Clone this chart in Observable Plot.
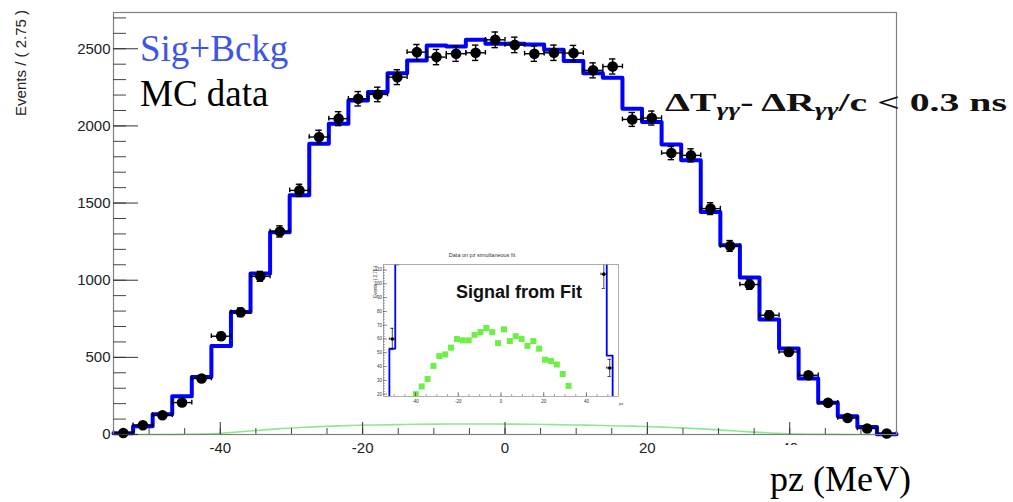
<!DOCTYPE html>
<html><head><meta charset="utf-8">
<script src="https://cdn.jsdelivr.net/npm/d3@7"></script>
<script src="https://cdn.jsdelivr.net/npm/@observablehq/plot@0.6"></script>
<style>
html,body{margin:0;padding:0;background:#fff;}
#wrap{position:relative;width:1013px;height:502px;overflow:hidden;}
#wrap > svg, #wrap > div{position:absolute;}
</style></head><body><div id="wrap"></div>
<script>
// ---- data ----
const binWidth = 2.75;
const pz = [-53.625,-50.875,-48.125,-45.375,-42.625,-39.875,-37.125,-34.375,-31.625,-28.875,
            -26.125,-23.375,-20.625,-17.875,-15.125,-12.375,-9.625,-6.875,-4.125,-1.375,
            1.375,4.125,6.875,9.625,12.375,15.125,17.875,20.625,23.375,26.125,
            28.875,31.625,34.375,37.125,39.875,42.625,45.375,48.125,50.875,53.625];
const mcData = [10,60,125,207,363,637,792,1025,1316,1582,
                1928,2047,2176,2204,2316,2478,2446,2468,2474,2558,
                2525,2468,2474,2472,2360,2385,2042,2051,1824,1809,
                1464,1222,972,773,535,384,205,107,39,6];
const sigPlusBkg = [8,53,131,248,373,574,794,1043,1310,1550,
                    1885,2014,2165,2219,2342,2424,2521,2515,2558,2532,
                    2532,2528,2494,2420,2342,2312,2111,2025,1880,1777,
                    1442,1226,1017,745,557,363,205,118,48,2];
const signalCurve = [0,0,0,1,3,8,18,28,38,45,
                     51,56,60,62,64,66,67,68,68,68,
                     67,66,64,62,60,57,54,50,45,40,
                     33,25,17,10,5,2,1,0,0,0];
// inset "Signal from Fit" per-bin values (bins 5..31)
const signalBins = [20,25.6,31,40.5,47.6,48.8,53.7,60,59,59,
                    63,65,68,65,57,67,58.5,62,60,55,
                    58.5,53,45,44,41.5,34.6,26];
const signalBinsPz = pz.slice(5, 32);
const yTicks = [0,500,1000,1500,2000,2500];
const xTicks = [-40,-20,0,20,40];
const insetYTicks = [20,30,40,50,60,70,80,90,100,110];

// ---- tables built from the arrays ----
const rows = pz.map((x,i)=>({x, data: mcData[i], fit: sigPlusBkg[i], sig: signalCurve[i]}));
const stepRows = rows.map(d=>({x: d.x - binWidth/2, y: d.fit}))
  .concat([{x: pz[pz.length-1] + binWidth/2, y: sigPlusBkg[sigPlusBkg.length-1]}]);
const insetRows = signalBinsPz.map((x,i)=>({x, y: signalBins[i]}));
const err = d => Math.sqrt(d.data);
const plain = d => String(d);

const sans = "'Liberation Sans', Arial, Helvetica, sans-serif";
const serif = "'Liberation Serif', 'Times New Roman', serif";
const wrap = document.getElementById("wrap");

function errorMarks(capX, capY, sw, clip) {
  return [
    Plot.ruleX(rows, {x:"x", y1: d=>d.data-err(d), y2: d=>d.data+err(d), stroke:"#000", strokeWidth:sw, clip}),
    Plot.ruleY(rows, {y:"data", x1: d=>d.x-binWidth/2, x2: d=>d.x+binWidth/2, stroke:"#000", strokeWidth:sw, clip}),
    Plot.ruleY(rows, {y: d=>d.data+err(d), x1: d=>d.x-capX, x2: d=>d.x+capX, stroke:"#000", strokeWidth:sw, clip}),
    Plot.ruleY(rows, {y: d=>d.data-err(d), x1: d=>d.x-capX, x2: d=>d.x+capX, stroke:"#000", strokeWidth:sw, clip}),
    Plot.ruleX(rows, {x: d=>d.x-binWidth/2, y1: d=>d.data-capY, y2: d=>d.data+capY, stroke:"#000", strokeWidth:sw, clip}),
    Plot.ruleX(rows, {x: d=>d.x+binWidth/2, y1: d=>d.data-capY, y2: d=>d.data+capY, stroke:"#000", strokeWidth:sw, clip})
  ];
}

// ---- main plot ----
const main = Plot.plot({
  width: 1013, height: 502,
  marginLeft: 113, marginRight: 117, marginTop: 12, marginBottom: 68,
  x: {domain: [-55, 55]},
  y: {domain: [0, 2735]},
  style: {fontFamily: sans, background: "white", overflow: "visible"},
  marks: [
    Plot.line(rows, {x:"x", y:"sig", stroke:"#8fe88f", strokeWidth:1.6, curve:"monotone-x"}),
    Plot.line(stepRows, {x:"x", y:"y", curve:"step-after", stroke:"#0000ff", strokeWidth:4}),
    ...errorMarks(0.45, 15, 1.4, false),
    Plot.dot(rows, {x:"x", y:"data", r:5.3, fill:"#000"}),
    Plot.frame({stroke:"#808080", strokeWidth:1.2}),
    Plot.axisY(d3.range(0, 2735, 100), {tickSize:-13, text:null, stroke:"#444", label:null}),
    Plot.axisY(yTicks, {tickSize:-25, text:null, stroke:"#333", label:null}),
    Plot.axisY(yTicks, {tickSize:0, tickPadding:3, fontSize:15, fill:"#222", label:null, tickFormat: plain}),
    Plot.axisX(d3.range(-50, 55, 5), {tickSize:-6, text:null, stroke:"#444", label:null}),
    Plot.axisX(xTicks, {tickSize:-12, text:null, stroke:"#333", label:null}),
    Plot.axisX(xTicks, {tickSize:0, tickPadding:8, fontSize:15, fill:"#222", label:null, tickFormat: plain})
  ]
});
main.style.left = "0px"; main.style.top = "0px";
wrap.appendChild(main);

// ---- inset plot (Signal from Fit) ----
const inset = Plot.plot({
  width: 262, height: 164,
  marginLeft: 16, marginRight: 11, marginTop: 14, marginBottom: 18,
  x: {domain: [-55, 55]},
  y: {domain: [18.3, 114]},
  style: {fontFamily: sans, background: "white", overflow: "visible"},
  marks: [
    Plot.dot(insetRows, {x:"x", y:"y", symbol:"square", r:3.4, fill:"#6cf046", clip:true}),
    Plot.line(stepRows, {x:"x", y:"y", curve:"step-after", stroke:"#0000ff", strokeWidth:1.8, clip:true}),
    ...errorMarks(0.8, 0.8, 0.7, true),
    Plot.dot(rows, {x:"x", y:"data", r:1.8, fill:"#000", clip:true}),
    Plot.frame({stroke:"#999", strokeWidth:0.8}),
    Plot.axisY(d3.range(20, 114, 2), {tickSize:-2, text:null, stroke:"#666", label:null, strokeWidth:0.6}),
    Plot.axisY(insetYTicks, {tickSize:-4, text:null, stroke:"#444", label:null, strokeWidth:0.6}),
    Plot.axisY(insetYTicks, {tickSize:0, tickPadding:1.5, fontSize:4.5, fill:"#333", label:null, tickFormat: plain}),
    Plot.axisX(d3.range(-50, 55, 5), {tickSize:-2, text:null, stroke:"#666", label:null, strokeWidth:0.6}),
    Plot.axisX(xTicks, {tickSize:-4, text:null, stroke:"#444", label:null, strokeWidth:0.6}),
    Plot.axisX(xTicks, {tickSize:0, tickPadding:3, fontSize:4.5, fill:"#333", label:null, tickFormat: plain})
  ]
});
inset.style.left = "367px"; inset.style.top = "250px";
wrap.appendChild(inset);

// ---- text overlay ----
const ov = d3.select(wrap).append("svg")
  .attr("width", 1013).attr("height", 502)
  .style("left","0px").style("top","0px").style("pointer-events","none");

ov.append("text").text("Events / ( 2.75 )")
  .attr("transform","translate(26,10) rotate(-90)")
  .attr("text-anchor","end").attr("font-family", sans).attr("font-size", 15).attr("fill","#222");

ov.append("text").text("Sig+Bckg").attr("x",140).attr("y",61)
  .attr("font-family", serif).attr("font-size", 37).attr("fill","#3f55e6");
ov.append("text").text("MC data").attr("x",140).attr("y",106)
  .attr("font-family", serif).attr("font-size", 37).attr("fill","#000");

// formula
const fg = ov.append("g").attr("transform","translate(665,111)");
const ft = fg.append("text").attr("font-family", serif).attr("font-size", 25)
  .attr("font-weight","bold").attr("fill","#111");
ft.append("tspan").text("ΔT");
ft.append("tspan").text("γγ").attr("font-style","italic").attr("font-size",18).attr("dy",5);
ft.append("tspan").text("- ΔR").attr("dy",-5);
ft.append("tspan").text("γγ").attr("font-style","italic").attr("font-size",18).attr("dy",5);
ft.append("tspan").text("/c < 0.3 ns").attr("dy",-5);
const fw = ft.node().getComputedTextLength();
fg.attr("transform", `translate(665,111) scale(${342/fw},1)`);

// white box with the x title (covers lower part of the "40" label as in the reference)
ov.append("rect").attr("x",700).attr("y",445).attr("width",313).attr("height",57).attr("fill","#fff");
ov.append("text").text("pz (MeV)").attr("x",770).attr("y",491)
  .attr("font-family", serif).attr("font-size", 36).attr("fill","#000");

// inset texts
ov.append("text").text("Data on pz simultaneous fit").attr("x",482).attr("y",257)
  .attr("text-anchor","middle").attr("font-family", sans).attr("font-size",5.5).attr("fill","#333");
ov.append("text").text("Events / ( 2.75 )")
  .attr("transform","translate(377,266) rotate(-90)")
  .attr("text-anchor","end").attr("font-family", sans).attr("font-size",4.5).attr("fill","#333");
ov.append("text").text("Signal from Fit").attr("x",456).attr("y",298)
  .attr("font-family", sans).attr("font-size",18).attr("font-weight","bold").attr("fill","#111");
ov.append("text").text("pz").attr("x",619).attr("y",405)
  .attr("font-family", sans).attr("font-size",4).attr("fill","#333");
</script></body></html>
